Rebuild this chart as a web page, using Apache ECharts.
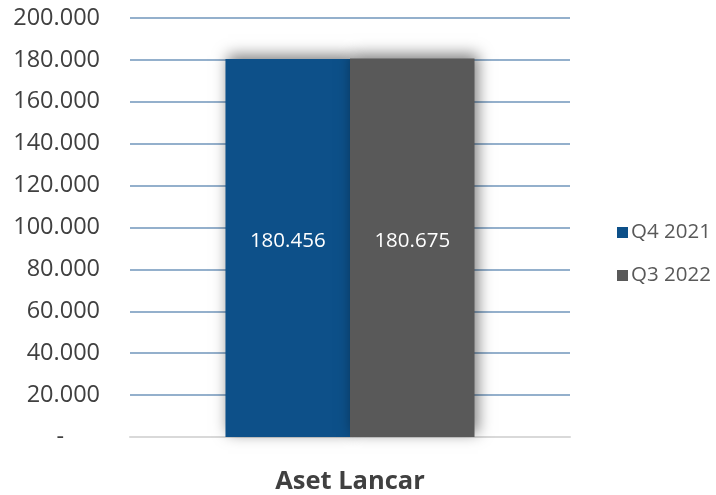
<!DOCTYPE html>
<html><head><meta charset="utf-8">
<script src="https://cdn.jsdelivr.net/npm/echarts@6/dist/echarts.min.js"></script>
<style>html,body{margin:0;padding:0;background:#fff}#c{width:716px;height:495px}</style>
</head><body><div id="c"></div>
<script>
const categories = ['Aset Lancar'];
const seriesNames = ['Q4 2021', 'Q3 2022'];
const q4_2021 = [180456];
const q3_2022 = [180675];
const yTicks = [0, 20000, 40000, 60000, 80000, 100000, 120000, 140000, 160000, 180000, 200000];

const FONT = '"Open Sans", "Liberation Sans", sans-serif';
function fmt(v) {
  return String(Math.round(v)).replace(/\B(?=(\d{3})+(?!\d))/g, '.');
}
const chart = echarts.init(document.getElementById('c'));
chart.setOption({
  animation: false,
  grid: { left: 130, right: 146, top: 18, bottom: 56 },
  legend: {
    orient: 'vertical', left: 612, top: 216,
    icon: 'rect', itemWidth: 11, itemHeight: 11, itemGap: 20,
    data: seriesNames,
    textStyle: { fontFamily: FONT, fontSize: 20.5, color: '#595959', lineHeight: 23, padding: [0, 0, 0, -2] }
  },
  xAxis: {
    type: 'category', data: categories,
    axisTick: { show: false },
    axisLine: { lineStyle: { color: '#d9d9d9', width: 2 } },
    axisLabel: { margin: 32, fontFamily: FONT, fontSize: 25.5, fontWeight: 'bold', color: '#404040' }
  },
  yAxis: {
    type: 'value', min: yTicks[0], max: yTicks[yTicks.length - 1], interval: yTicks[1] - yTicks[0],
    axisLine: { show: false }, axisTick: { show: false },
    splitLine: { lineStyle: { color: '#7096bb', width: 1.5 } },
    axisLabel: {
      margin: 30, fontFamily: FONT, fontSize: 23.5, color: '#404040',
      formatter: v => v === 0 ? '{d|-}' : fmt(v),
      rich: { d: { fontFamily: FONT, fontSize: 23.5, color: '#404040', padding: [0, 36, 0, 0] } }
    }
  },
  series: [
    {
      name: seriesNames[0], type: 'bar', data: q4_2021, barWidth: '28.3%', barGap: '0%',
      itemStyle: { color: '#0d5089', shadowColor: 'rgba(0,0,0,0.5)', shadowBlur: 14, shadowOffsetX: 3, shadowOffsetY: -4 },
      label: { show: true, position: 'inside', offset: [0, -7], formatter: p => fmt(p.value), fontFamily: FONT, fontSize: 20.5, color: '#ffffff' }
    },
    {
      name: seriesNames[1], type: 'bar', data: q3_2022, barWidth: '28.3%', barGap: '0%',
      itemStyle: { color: '#595959', shadowColor: 'rgba(0,0,0,0.5)', shadowBlur: 14, shadowOffsetX: 3, shadowOffsetY: -4 },
      label: { show: true, position: 'inside', offset: [0, -7], formatter: p => fmt(p.value), fontFamily: FONT, fontSize: 20.5, color: '#ffffff' }
    }
  ]
});
</script></body></html>
